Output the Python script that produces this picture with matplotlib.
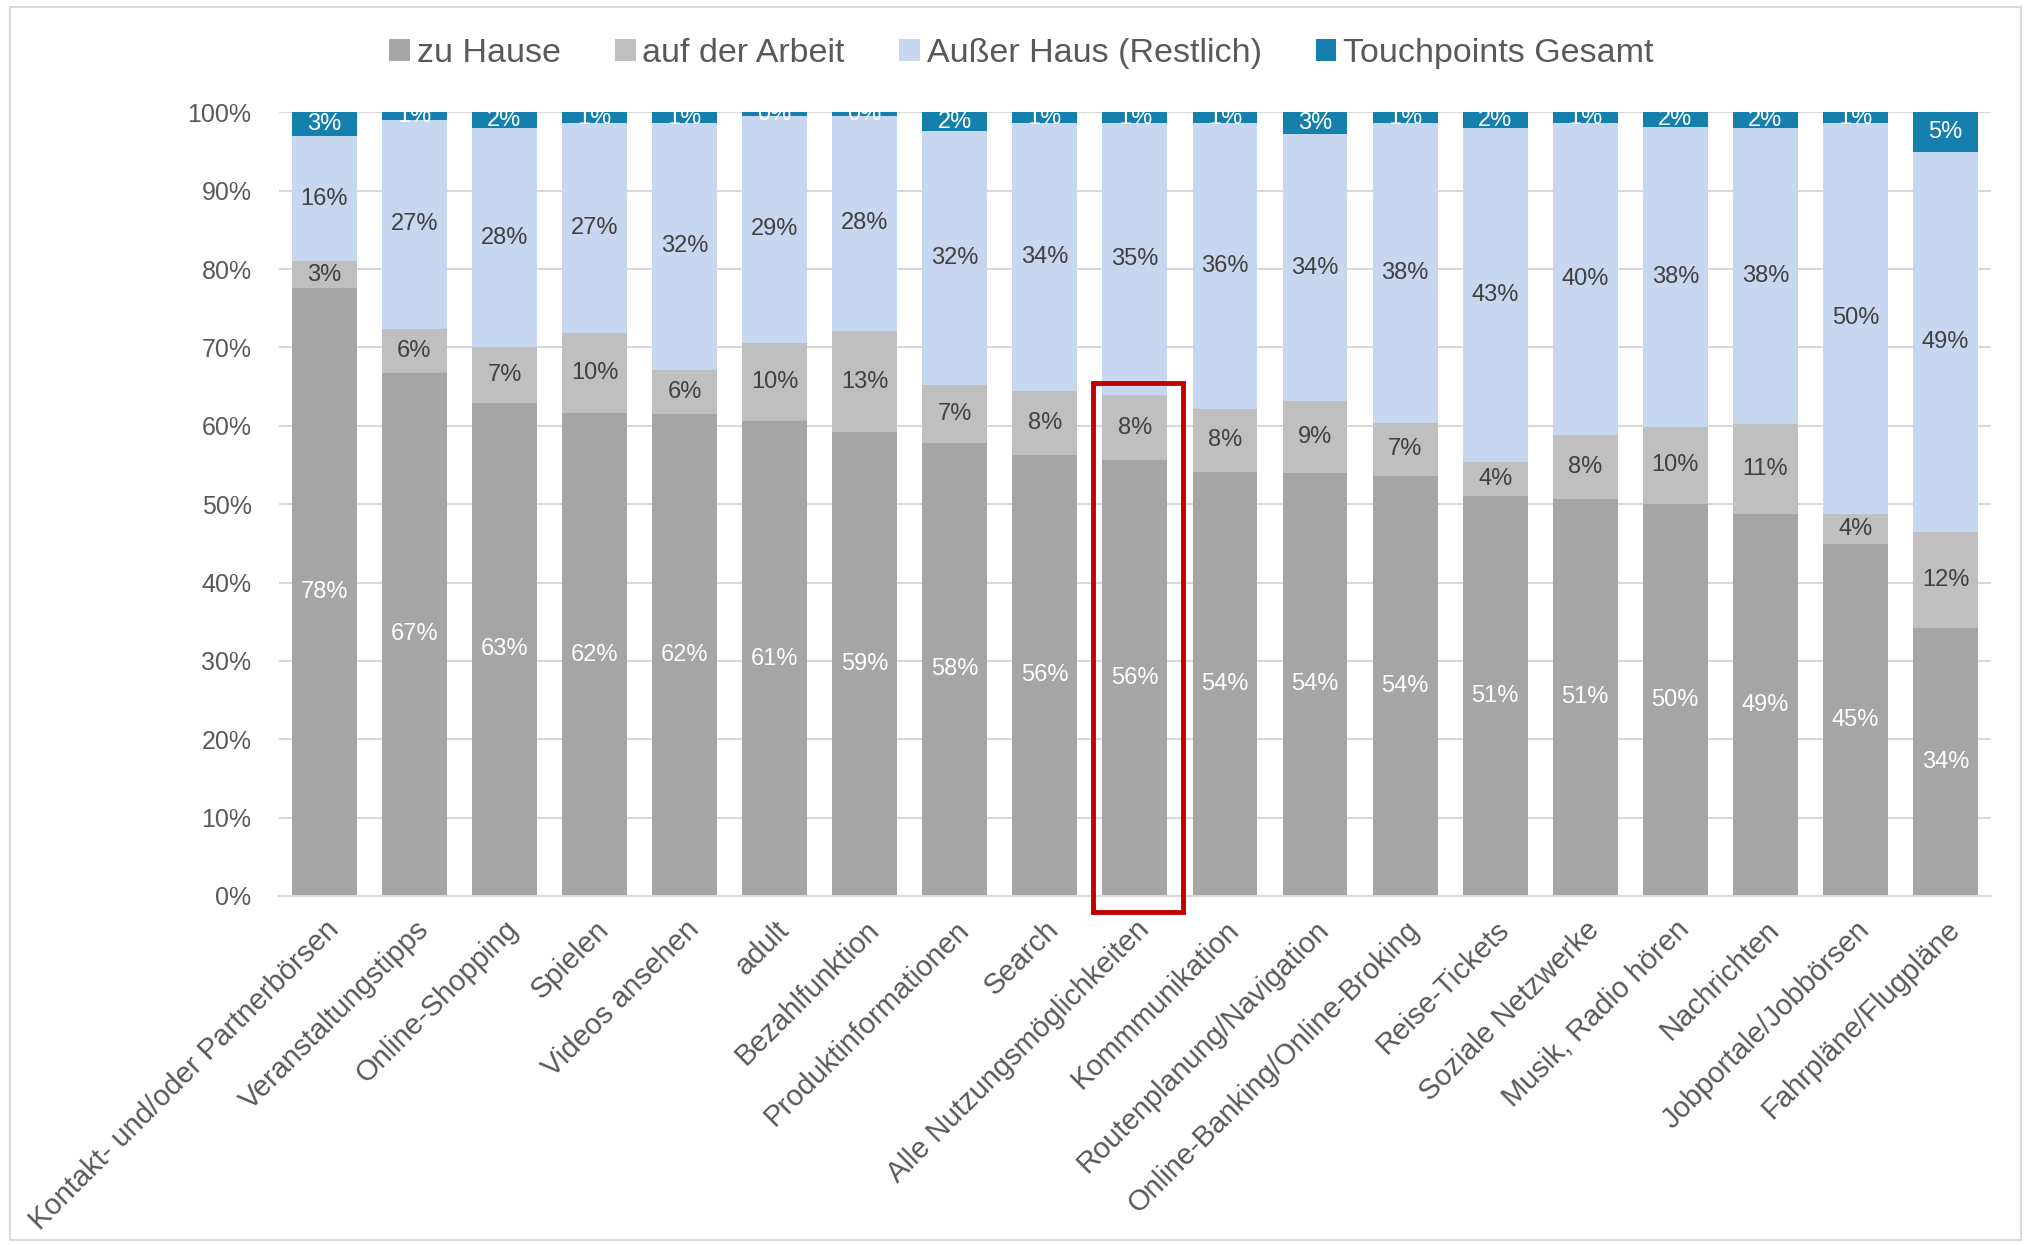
"""
Nutzungsorte nach Anwendung - gestapeltes Säulendiagramm (100 %)
"""
import matplotlib
matplotlib.use("Agg")
import matplotlib.pyplot as plt
import matplotlib.patches as mpatches
import numpy as np

plt.rcParams["font.family"] = ["Liberation Sans", "DejaVu Sans"]

categories = [
    "Kontakt- und/oder Partnerbörsen", "Veranstaltungstipps", "Online-Shopping",
    "Spielen", "Videos ansehen", "adult", "Bezahlfunktion", "Produktinformationen",
    "Search", "Alle Nutzungsmöglichkeiten", "Kommmunikation",
    "Routenplanung/Navigation", "Online-Banking/Online-Broking", "Reise-Tickets",
    "Soziale Netzwerke", "Musik, Radio hören", "Nachrichten",
    "Jobportale/Jobbörsen", "Fahrpläne/Flugpläne",
]
zu_hause = [77.6, 66.8, 62.9, 61.6, 61.5, 60.6, 59.2, 57.8, 56.3, 55.6,
            54.1, 54.0, 53.6, 51.0, 50.7, 50.0, 48.8, 44.9, 34.2]
arbeit = [3.4, 5.6, 7.1, 10.2, 5.6, 10.0, 12.9, 7.4, 8.2, 8.3,
          8.1, 9.2, 6.8, 4.4, 8.1, 9.9, 11.4, 3.8, 12.2]
ausser_haus = [16.0, 26.6, 28.0, 26.8, 31.6, 29.0, 27.5, 32.4, 34.2, 34.8,
               36.4, 34.0, 38.2, 42.6, 39.9, 38.3, 37.8, 50.0, 48.6]
touchpoints = [3.0, 1.0, 2.0, 1.4, 1.3, 0.4, 0.4, 2.4, 1.3, 1.3,
               1.4, 2.8, 1.4, 2.0, 1.3, 1.8, 2.0, 1.3, 5.0]
highlight = "Alle Nutzungsmöglichkeiten"

series = [
    ("zu Hause", zu_hause, "#A5A5A5", "white"),
    ("auf der Arbeit", arbeit, "#BFBFBF", "#404040"),
    ("Außer Haus (Restlich)", ausser_haus, "#C6D7EF", "#404040"),
    ("Touchpoints Gesamt", touchpoints, "#1580AE", "white"),
]

fig = plt.figure(figsize=(20.27, 12.45), dpi=100)
ax = fig.add_axes([0.1378, 0.2804, 0.8442, 0.6293])

x = np.arange(len(categories))
bottom = np.zeros(len(categories))
for name, vals, color, txt_color in series:
    vals = np.array(vals) / 100.0
    ax.bar(x, vals, 0.72, bottom=bottom, color=color, label=name, zorder=2)
    for xi, b, v in zip(x, bottom, vals):
        ax.text(xi, b + v / 2, f"{round(v * 100):.0f}%", ha="center", va="center",
                fontsize=17, color=txt_color, zorder=3)
    bottom += vals

ax.set_xlim(-0.5, len(categories) - 0.5)
ax.set_ylim(0, 1)
ax.set_yticks(np.arange(0, 1.01, 0.1))
ax.set_yticklabels([f"{v}%" for v in range(0, 101, 10)])
ax.yaxis.grid(True, color="#D9D9D9", linewidth=1.5, zorder=0)
ax.set_axisbelow(True)
for s in ["top", "right", "left"]:
    ax.spines[s].set_visible(False)
ax.spines["bottom"].set_color("#D9D9D9")
ax.spines["bottom"].set_linewidth(1.5)
ax.tick_params(axis="y", length=0, labelsize=18, labelcolor="#595959", pad=20)
ax.tick_params(axis="x", length=0, labelsize=21, labelcolor="#595959", pad=14)
ax.set_xticks(x)
ax.set_xticklabels(categories, rotation=45, ha="right", rotation_mode="anchor")

# Markierung der Gesamtsäule
hi = categories.index(highlight)
ax.add_patch(mpatches.Rectangle((hi - 0.47, -0.02), 1.0, 0.675, fill=False,
                                edgecolor="#C00000", linewidth=3.5,
                                clip_on=False, zorder=5))

fig.legend(loc="center", bbox_to_anchor=(0.504, 0.957), ncol=4, frameon=False,
           fontsize=24.5, handlelength=0.6, handleheight=0.6, handletextpad=0.2,
           columnspacing=1.6, labelcolor="#595959")

# Rahmen um die Grafik
fig.add_artist(mpatches.Rectangle((0.005, 0.004), 0.992, 0.99, transform=fig.transFigure,
                                  fill=False, edgecolor="#D9D9D9", linewidth=1.5))

fig.savefig("out.png", dpi=100)
